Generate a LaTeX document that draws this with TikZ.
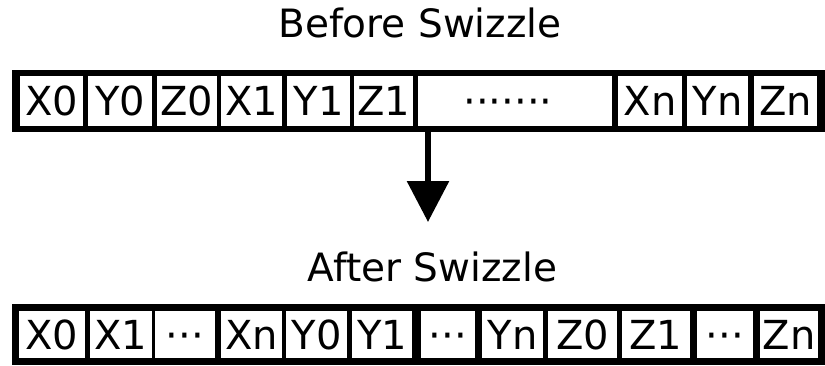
\documentclass[tikz,border=0pt]{standalone}
\usepackage{fontspec}
\setmainfont{DejaVu Sans}
\usetikzlibrary{arrows.meta}
\newcommand\rowdots{·······\hspace*{14pt}}
\newcommand\middots{···}
\begin{document}
\begin{tikzpicture}[x=1pt,y=-1pt,
  bar/.style={fill=black, draw=none, inner sep=0pt, outer sep=0pt},
  cell/.style={fill=white, draw=none, inner sep=0pt, outer sep=0pt,
    font=\fontsize{40}{40}\selectfont, text height=29pt, text depth=0pt},
  title/.style={font=\fontsize{39}{39}\selectfont, anchor=base, inner sep=0pt},
  flow/.style={line width=6pt, -{Triangle[width=41pt,length=41pt]}}]
\useasboundingbox (0,0) rectangle (825,365);

% ---- layout before swizzling ----
\node[title] (before) at (420,37.5) {Before Swizzle};
\node[bar, minimum width=813pt, minimum height=62pt] (topbar) at (418.5,101) {};
\foreach \n/\a/\b/\t in {ta/20/83/X0, tb/88/152/Y0, tc/157/217/Z0,
    td/221/282/X1, te/287/350/Y1, tf/354/413/Z1, tg/418/612/\rowdots,
    th/618/682/Xn, ti/687/748/Yn, tj/754/817/Zn}
  \node[cell, minimum width={(\b-\a)*1pt}, minimum height=50pt]
    (\n) at ({(\a+\b)/2},101) {\t};

% ---- swizzle step ----
\coordinate (tip) at (428,222);
\draw[flow] (topbar.south -| tip) -- (tip);

% ---- layout after swizzling ----
\node[title] (after) at (432.5,281.5) {After Swizzle};
\node[bar, minimum width=813pt, minimum height=61pt] (botbar) at (418.5,334.5) {};
\foreach \n/\a/\b/\t in {ba/19/85/X0, bb/90/152/X1, bc/155/215/\middots,
    bd/221/282/Xn, be/286/347/Y0, bf/352/412/Y1, bg/421/475/\middots,
    bh/482/543/Yn, bi/548/617/Z0, bj/622/690/Z1, bk/697/753/\middots,
    bl/760/818/Zn}
  \node[cell, minimum width={(\b-\a)*1pt}, minimum height=47pt]
    (\n) at ({(\a+\b)/2},334.5) {\t};
\end{tikzpicture}
\end{document}
